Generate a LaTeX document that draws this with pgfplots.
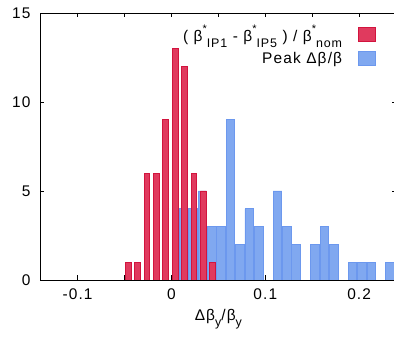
\documentclass[border=0pt]{standalone}
\usepackage{fontspec}
\setmainfont{Liberation Sans}[LetterSpace=7.5]
\usepackage{pgfplots}
\usepackage{pgfplotstable}
\pgfplotsset{compat=1.18}
\definecolor{redfill}{RGB}{224,58,94}
\definecolor{reddraw}{RGB}{210,20,62}
\definecolor{bluefill}{RGB}{128,168,240}
\definecolor{bluedraw}{RGB}{108,152,238}
\newcommand\su[1]{\raisebox{0.55em}{\fontsize{11}{11}\selectfont #1}}
\newcommand\sbs[1]{\raisebox{-0.38em}{\fontsize{12.5}{12.5}\selectfont #1}}
\pgfplotstableread{
x y
-0.046 1
-0.036 1
-0.026 6
-0.016 6
-0.006 9
0.004 13
0.014 12
0.024 6
0.034 5
0.044 1
}\reddata
\pgfplotstableread{
x y
0.013 4
0.023 4
0.033 5
0.043 3
0.053 3
0.063 9
0.073 2
0.083 4
0.093 3
0.113 5
0.123 3
0.133 2
0.153 2
0.163 3
0.173 2
0.193 1
0.203 1
0.213 1
0.233 1
}\bluedata
\begin{document}
\begin{tikzpicture}[font=\fontsize{15.5}{18}\selectfont]
\begin{axis}[
  scale only axis, width=356.7bp, height=267bp,
  xmin=-0.14, xmax=0.24, ymin=0, ymax=15,
  xtick={-0.1,0,0.1,0.2}, xticklabels={-0.1,0,0.1,0.2},
  minor xtick={-0.05,0.05,0.15},
  ytick={0,5,10,15}, yticklabels={0,5,10,15},
  tick align=inside, major tick length=4.5bp, minor tick length=4.5bp,
  axis line style={line width=0.9bp},
  every tick/.style={line width=0.9bp, black},
  xticklabel shift=5bp, yticklabel shift=6bp,
  xlabel={Δβ\sbs{y}/β\sbs{y}},
  xlabel style={yshift=-3bp},
  legend plot pos=right,
  legend cell align=right,
  legend style={at={(0.942,0.962)}, anchor=north east, draw=none, fill=none,
    row sep=5.5bp, inner sep=0pt},
  legend image code/.code={\path (0bp,0bp); \draw[#1, line width=1bp] (14bp,-7bp) rectangle (31bp,7bp);},
]
\addplot[ybar, bar shift=0pt, bar width=0.0093, fill=bluefill, draw=bluedraw, line width=0.9bp, forget plot] table {\bluedata};
\addplot[ybar, bar shift=0pt, bar width=0.0062, fill=redfill, draw=reddraw, line width=0.9bp, forget plot] table {\reddata};
\addlegendimage{fill=redfill, draw=reddraw}
\addlegendentry{( β\su{*}\sbs{IP1} - β\su{*}\sbs{IP5} ) / β\su{*}\sbs{nom}}
\addlegendimage{fill=bluefill, draw=bluedraw}
\addlegendentry{Peak Δβ/β}
\end{axis}
\pgfresetboundingbox
\path ([shift={(-40bp,-58bp)}]current axis.south west) rectangle ([shift={(354bp,280bp)}]current axis.south west);
\end{tikzpicture}
\end{document}
